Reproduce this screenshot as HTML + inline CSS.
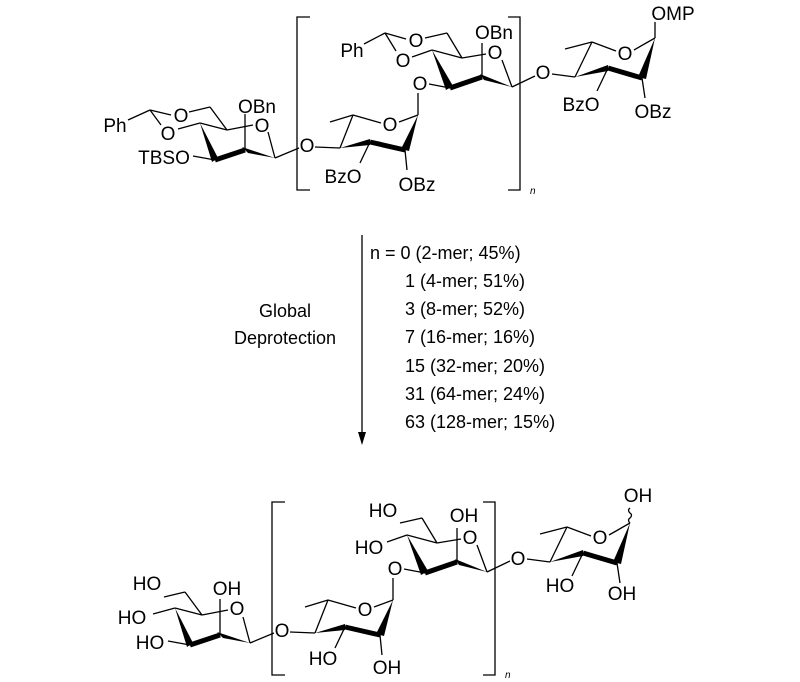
<!DOCTYPE html>
<html><head><meta charset="utf-8"><style>
html,body{margin:0;padding:0;background:#fff}
svg{display:block}
text{font-family:"Liberation Sans",Arial,sans-serif;font-size:19px;fill:#000}
.m{font-size:18px}
</style></head><body>
<svg width="800" height="682" viewBox="0 0 800 682" xmlns="http://www.w3.org/2000/svg">
<defs>
<g id="sk" stroke="#000" fill="none" stroke-width="1.3">
<!-- left sugar -->
<line x1="189" y1="112" x2="210" y2="107"/><line x1="210" y1="107" x2="227" y2="130"/>
<line x1="200" y1="123" x2="227" y2="130"/><line x1="227" y1="130" x2="253" y2="125"/>
<line x1="268" y1="132" x2="275" y2="158"/><line x1="200" y1="123" x2="178" y2="129"/>
<line x1="245" y1="150" x2="245" y2="114"/><line x1="275" y1="158" x2="299" y2="148"/>
<line x1="215" y1="160" x2="193" y2="156"/>
<polygon points="200,123 212,162 218,158" fill="#000" stroke="none"/>
<line x1="215" y1="160" x2="245" y2="150" stroke-width="5"/>
<polygon points="242,147 248,153 275,158" fill="#000" stroke="none"/>
<!-- rhamnose -->
<line x1="315" y1="147" x2="340" y2="148"/><line x1="340" y1="148" x2="353" y2="115"/>
<line x1="353" y1="115" x2="330" y2="122"/><line x1="353" y1="115" x2="381" y2="123"/>
<line x1="399" y1="122" x2="418" y2="115"/><line x1="418" y1="115" x2="418" y2="93"/>
<line x1="370" y1="142" x2="360" y2="163"/><line x1="405" y1="150" x2="407" y2="170"/>
<polygon points="340,148 370,139 370,145" fill="#000" stroke="none"/>
<line x1="370" y1="142" x2="405" y2="150" stroke-width="5"/>
<polygon points="418,115 401,149 409,151" fill="#000" stroke="none"/>
<!-- upper mannose -->
<line x1="429" y1="84" x2="450" y2="88"/><line x1="432" y1="50" x2="462" y2="58"/>
<line x1="462" y1="58" x2="447" y2="33"/><line x1="447" y1="33" x2="425" y2="38"/>
<line x1="462" y1="58" x2="486" y2="54"/><line x1="502" y1="60" x2="512" y2="87"/>
<line x1="482" y1="77" x2="482" y2="43"/><line x1="432" y1="50" x2="412" y2="57"/>
<line x1="512" y1="87" x2="535" y2="76"/>
<polygon points="432,50 446,90 453,86" fill="#000" stroke="none"/>
<line x1="450" y1="88" x2="482" y2="77" stroke-width="5"/>
<polygon points="480,74 484,80 512,87" fill="#000" stroke="none"/>
<!-- fourth -->
<line x1="552" y1="74" x2="575" y2="77"/><line x1="575" y1="77" x2="592" y2="42"/>
<line x1="592" y1="42" x2="565" y2="49"/><line x1="592" y1="42" x2="616" y2="51"/>
<line x1="634" y1="50" x2="655" y2="38"/>
<line x1="608" y1="68" x2="597" y2="91"/><line x1="642" y1="78" x2="645" y2="98"/>
<polygon points="575,77 608,65 608,71" fill="#000" stroke="none"/>
<line x1="608" y1="68" x2="642" y2="78" stroke-width="5"/>
<polygon points="655,38 638,77 646,79" fill="#000" stroke="none"/>
<!-- brackets -->
<path d="M310,17 H297 V190 H310"/><path d="M508,17 H520 V190 H508"/>
</g>
</defs>
<use href="#sk"/>
<g stroke="#000" stroke-width="1.3" fill="none">
<line x1="128" y1="120" x2="150" y2="110"/><line x1="150" y1="110" x2="171" y2="115"/><line x1="150" y1="110" x2="161" y2="125"/>
<line x1="364" y1="44" x2="385" y2="33"/><line x1="385" y1="33" x2="406" y2="39"/><line x1="385" y1="33" x2="396" y2="51"/>
<line x1="655" y1="38" x2="655" y2="22"/>
<line x1="362" y1="235" x2="362" y2="435"/>
</g>
<polygon points="358,432 366,432 362,445" fill="#000"/>
<g text-anchor="middle">
<text x="115" y="132">Ph</text><text x="181" y="122">O</text><text x="168" y="140">O</text>
<text x="257" y="113">OBn</text><text x="262" y="132">O</text><text x="164" y="164">TBSO</text>
<text x="307" y="152">O</text><text x="343" y="183">BzO</text><text x="417" y="191">OBz</text>
<text x="390" y="131">O</text>
<text x="420" y="90">O</text><text x="352" y="57">Ph</text><text x="416" y="47">O</text><text x="403" y="67">O</text>
<text x="495" y="59">O</text><text x="494" y="39">OBn</text><text x="543" y="79">O</text>
<text x="625" y="60">O</text><text x="673" y="20">OMP</text><text x="581" y="111">BzO</text><text x="653" y="118">OBz</text>
</g>
<text x="530" y="194" style="font-size:10px;font-style:italic">n</text>
<text class="m" x="370" y="259">n = 0 (2-mer; 45%)</text>
<text class="m" x="405" y="287">1 (4-mer; 51%)</text>
<text class="m" x="405" y="315">3 (8-mer; 52%)</text>
<text class="m" x="405" y="343">7 (16-mer; 16%)</text>
<text class="m" x="405" y="372">15 (32-mer; 20%)</text>
<text class="m" x="405" y="400">31 (64-mer; 24%)</text>
<text class="m" x="405" y="428">63 (128-mer; 15%)</text>
<text class="m" x="285" y="317" text-anchor="middle">Global</text>
<text class="m" x="285" y="344" text-anchor="middle">Deprotection</text>
<use href="#sk" transform="translate(-25,485)"/>
<g stroke="#000" stroke-width="1.3" fill="none">
<path d="M630,523 q-3,-3 0,-5 q3,-3 0,-5 q-3,-3 0,-5"/>
</g>
<g text-anchor="middle">
<text x="147" y="590">HO</text><text x="132" y="624">HO</text><text x="150" y="649">HO</text>
<text x="227" y="595">OH</text><text x="237" y="615">O</text><text x="282" y="637">O</text>
<text x="365" y="616">O</text>
<text x="323" y="665">HO</text><text x="387" y="674">OH</text>
<text x="383" y="517">HO</text><text x="369" y="554">HO</text><text x="395" y="575">O</text>
<text x="464" y="522">OH</text><text x="470" y="544">O</text><text x="518" y="565">O</text>
<text x="600" y="544">O</text><text x="638" y="502">OH</text><text x="560" y="592">HO</text><text x="622" y="600">OH</text>
</g>
<text x="505" y="678" style="font-size:10px;font-style:italic">n</text>
</svg>
</body></html>
